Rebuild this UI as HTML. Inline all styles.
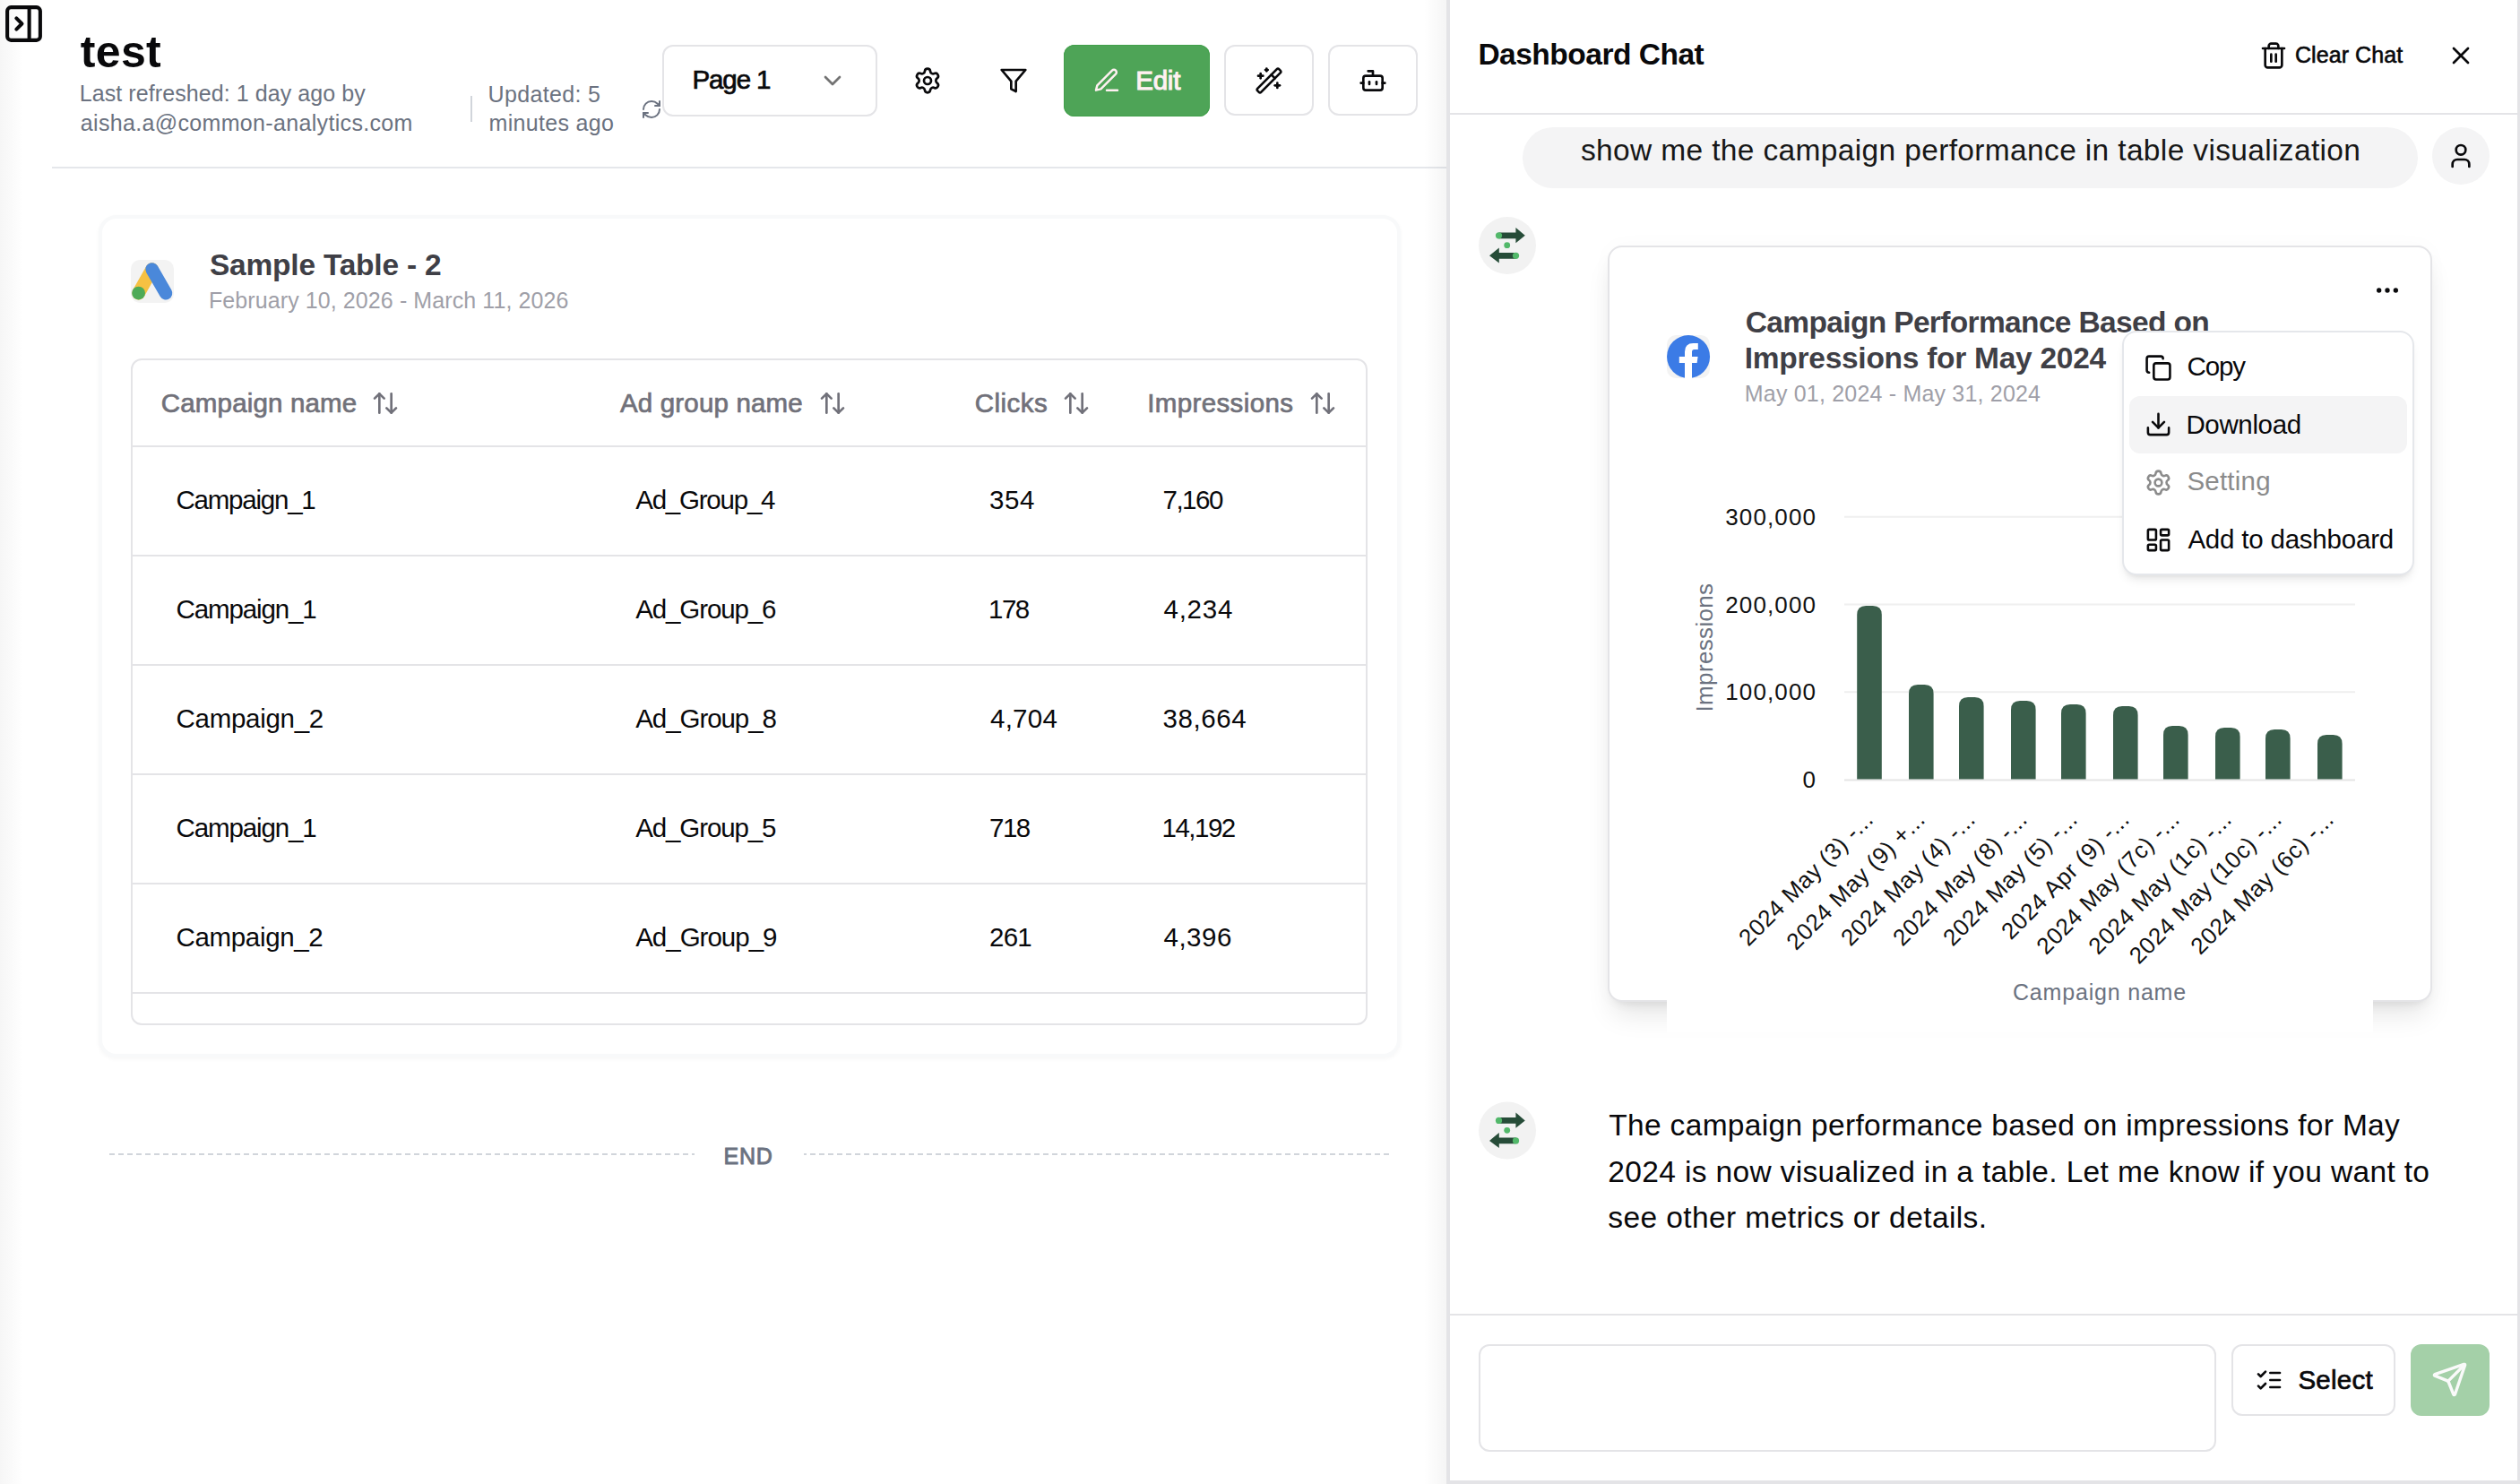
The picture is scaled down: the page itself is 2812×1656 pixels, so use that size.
<!DOCTYPE html>
<html><head><meta charset="utf-8"><title>Dashboard</title>
<style>
html,body{margin:0;padding:0;}
body{width:2812px;height:1656px;position:relative;overflow:hidden;background:#fff;font-family:"Liberation Sans",sans-serif;}
.t{position:absolute;white-space:pre;line-height:1;}
.b{position:absolute;}
.i{position:absolute;overflow:visible;}
</style></head><body>
<div class="b" style="left:0.00px;top:0.00px;width:26.00px;height:1656.00px;background:linear-gradient(to right,#f6f6f6,#ffffff);"></div>
<svg class="i" style="left:1.90px;top:1.90px;" width="49" height="49" viewBox="0 0 24 24" fill="none" stroke="#09090b" stroke-width="2" stroke-linecap="round" stroke-linejoin="round"><rect width="18" height="18" x="3" y="3" rx="2"/><path d="M15 3v18"/><path d="m8 9 3 3-3 3"/></svg>
<div class="t" style="left:89.80px;top:32.70px;font-size:50px;font-weight:700;color:#09090b;letter-spacing:0.333px;">test</div>
<div class="t" style="left:88.80px;top:92.45px;font-size:25px;font-weight:400;color:#6b7280;letter-spacing:0.074px;">Last refreshed: 1 day ago by</div>
<div class="t" style="left:89.80px;top:124.65px;font-size:25px;font-weight:400;color:#6b7280;letter-spacing:0.333px;">aisha.a@common-analytics.com</div>
<div class="b" style="left:525.00px;top:106.50px;width:2.00px;height:29.50px;background:#d1d5db;"></div>
<div class="t" style="left:544.60px;top:92.55px;font-size:25px;font-weight:400;color:#6b7280;letter-spacing:0.333px;">Updated: 5</div>
<div class="t" style="left:545.60px;top:124.75px;font-size:25px;font-weight:400;color:#6b7280;letter-spacing:0.300px;">minutes ago</div>
<svg class="i" style="left:715.00px;top:110.40px;" width="24" height="24" viewBox="0 0 24 24" fill="none" stroke="#6b7280" stroke-width="2" stroke-linecap="round" stroke-linejoin="round"><path d="M3 12a9 9 0 0 1 9-9 9.75 9.75 0 0 1 6.74 2.74L21 8"/><path d="M21 3v5h-5"/><path d="M21 12a9 9 0 0 1-9 9 9.75 9.75 0 0 1-6.74-2.74L3 16"/><path d="M8 16H3v5"/></svg>
<div class="b" style="left:739.00px;top:50.00px;width:240.00px;height:79.50px;background:#fff;border:2px solid #e4e4e7;box-sizing:border-box;border-radius:12px;"></div>
<div class="t" style="left:772.40px;top:74.42px;font-size:29.5px;font-weight:400;color:#09090b;letter-spacing:-1.080px;-webkit-text-stroke:0.71px #09090b;">Page 1</div>
<svg class="i" style="left:912.90px;top:74.30px;" width="32" height="32" viewBox="0 0 24 24" fill="none" stroke="#737373" stroke-width="2" stroke-linecap="round" stroke-linejoin="round"><path d="m6 9 6 6 6-6"/></svg>
<svg class="i" style="left:1019.00px;top:74.00px;" width="32" height="32" viewBox="0 0 24 24" fill="none" stroke="#09090b" stroke-width="2" stroke-linecap="round" stroke-linejoin="round"><path d="M9.671 4.136a2.34 2.34 0 0 1 4.659 0 2.34 2.34 0 0 0 3.319 1.915 2.34 2.34 0 0 1 2.33 4.033 2.34 2.34 0 0 0 0 3.831 2.34 2.34 0 0 1-2.33 4.033 2.34 2.34 0 0 0-3.319 1.915 2.34 2.34 0 0 1-4.659 0 2.34 2.34 0 0 0-3.32-1.915 2.34 2.34 0 0 1-2.33-4.033 2.34 2.34 0 0 0 0-3.831A2.34 2.34 0 0 1 6.35 6.051a2.34 2.34 0 0 0 3.319-1.915"/><circle cx="12" cy="12" r="3"/></svg>
<svg class="i" style="left:1114.90px;top:73.60px;" width="32" height="32" viewBox="0 0 24 24" fill="none" stroke="#09090b" stroke-width="2" stroke-linecap="round" stroke-linejoin="round"><polygon points="22 3 2 3 10 12.46 10 19 14 21 14 12.46 22 3"/></svg>
<div class="b" style="left:1187.00px;top:49.80px;width:163.20px;height:80.20px;background:#4ea457;border-radius:12px;box-shadow:inset 0 0 0 1px #42a04b;"></div>
<svg class="i" style="left:1218.50px;top:73.90px;" width="32" height="32" viewBox="0 0 24 24" fill="none" stroke="#fff1f2" stroke-width="1.85" stroke-linecap="round" stroke-linejoin="round"><path d="M12 20h9"/><path d="M16.5 3.5a2.121 2.121 0 0 1 3 3L7 19l-4 1 1-4L16.5 3.5z"/></svg>
<div class="t" style="left:1267.20px;top:75.22px;font-size:29.5px;font-weight:400;color:#fff1f2;letter-spacing:-0.233px;-webkit-text-stroke:1.06px #fff1f2;">Edit</div>
<div class="b" style="left:1366.40px;top:50.20px;width:99.20px;height:79.20px;background:#fff;border:2px solid #e4e4e7;box-sizing:border-box;border-radius:12px;"></div>
<svg class="i" style="left:1400.00px;top:73.75px;" width="32" height="32" viewBox="0 0 24 24" fill="none" stroke="#09090b" stroke-width="2" stroke-linecap="round" stroke-linejoin="round"><path d="m21.64 3.64-1.28-1.28a1.21 1.21 0 0 0-1.72 0L2.36 18.64a1.21 1.21 0 0 0 0 1.72l1.28 1.28a1.2 1.2 0 0 0 1.72 0L21.64 5.36a1.2 1.2 0 0 0 0-1.72"/><path d="m14 7 3 3"/><path d="M5 6v4"/><path d="M19 14v4"/><path d="M10 2v2"/><path d="M7 8H3"/><path d="M21 16h-4"/><path d="M11 3H9"/></svg>
<div class="b" style="left:1482.20px;top:50.20px;width:99.50px;height:79.20px;background:#fff;border:2px solid #e4e4e7;box-sizing:border-box;border-radius:12px;"></div>
<svg class="i" style="left:1515.85px;top:73.85px;" width="32" height="32" viewBox="0 0 24 24" fill="none" stroke="#09090b" stroke-width="2" stroke-linecap="round" stroke-linejoin="round"><path d="M12 8V4H8"/><rect width="16" height="12" x="4" y="8" rx="2"/><path d="M2 14h2"/><path d="M20 14h2"/><path d="M15 13v2"/><path d="M9 13v2"/></svg>
<div class="b" style="left:58.00px;top:186.00px;width:1556.00px;height:2.00px;background:#e5e7eb;"></div>
<div class="b" style="left:109.50px;top:240.00px;width:1453.50px;height:940.00px;background:#fff;border:4px solid #f8f9fa;box-sizing:border-box;border-radius:20px;box-shadow:0 2px 5px rgba(0,0,0,0.035);"></div>
<div class="b" style="left:146.00px;top:290.00px;width:48.00px;height:48.00px;background:#f3f3f3;border-radius:10px;"></div>
<svg class="i" style="left:0;top:0" width="2812" height="400"><line x1="169.6" y1="300.5" x2="154.6" y2="327.1" stroke="#f6c142" stroke-width="14.6" stroke-linecap="round"/><circle cx="154.6" cy="327.1" r="7.4" fill="#4eab57"/><line x1="169.6" y1="300.5" x2="185" y2="327.1" stroke="#4a88da" stroke-width="14.6" stroke-linecap="round"/></svg>
<div class="t" style="left:234.00px;top:279.02px;font-size:33.5px;font-weight:600;color:#3f3f46;letter-spacing:-0.220px;">Sample Table - 2</div>
<div class="t" style="left:233.00px;top:322.75px;font-size:25px;font-weight:400;color:#9f9fa8;letter-spacing:0.091px;">February 10, 2026 - March 11, 2026</div>
<div class="b" style="left:146.30px;top:400.20px;width:1379.70px;height:743.50px;background:#fff;border:2px solid #e4e4e7;box-sizing:border-box;border-radius:12px;"></div>
<div class="b" style="left:148.00px;top:496.50px;width:1376.00px;height:2.00px;background:#e4e4e7;"></div>
<div class="b" style="left:148.00px;top:618.50px;width:1376.00px;height:2.00px;background:#e4e4e7;"></div>
<div class="b" style="left:148.00px;top:740.50px;width:1376.00px;height:2.00px;background:#e4e4e7;"></div>
<div class="b" style="left:148.00px;top:862.50px;width:1376.00px;height:2.00px;background:#e4e4e7;"></div>
<div class="b" style="left:148.00px;top:984.50px;width:1376.00px;height:2.00px;background:#e4e4e7;"></div>
<div class="b" style="left:148.00px;top:1106.50px;width:1376.00px;height:2.00px;background:#e4e4e7;"></div>
<div class="t" style="left:179.80px;top:434.93px;font-size:29.5px;font-weight:400;color:#71717a;letter-spacing:0.167px;-webkit-text-stroke:0.71px #71717a;">Campaign name</div>
<div class="t" style="left:692.00px;top:434.93px;font-size:29.5px;font-weight:400;color:#71717a;letter-spacing:0.167px;-webkit-text-stroke:0.71px #71717a;">Ad group name</div>
<div class="t" style="left:1087.70px;top:434.93px;font-size:29.5px;font-weight:400;color:#71717a;letter-spacing:0.460px;-webkit-text-stroke:0.71px #71717a;">Clicks</div>
<div class="t" style="left:1280.20px;top:434.93px;font-size:29.5px;font-weight:400;color:#71717a;letter-spacing:0.380px;-webkit-text-stroke:0.71px #71717a;">Impressions</div>
<svg class="i" style="left:414.00px;top:434.20px;" width="32" height="32" viewBox="0 0 24 24" fill="none" stroke="#71717a" stroke-width="2" stroke-linecap="round" stroke-linejoin="round"><path d="m21 16-4 4-4-4"/><path d="M17 20V4"/><path d="m3 8 4-4 4 4"/><path d="M7 4v16"/></svg>
<svg class="i" style="left:912.90px;top:434.20px;" width="32" height="32" viewBox="0 0 24 24" fill="none" stroke="#71717a" stroke-width="2" stroke-linecap="round" stroke-linejoin="round"><path d="m21 16-4 4-4-4"/><path d="M17 20V4"/><path d="m3 8 4-4 4 4"/><path d="M7 4v16"/></svg>
<svg class="i" style="left:1185.10px;top:434.20px;" width="32" height="32" viewBox="0 0 24 24" fill="none" stroke="#71717a" stroke-width="2" stroke-linecap="round" stroke-linejoin="round"><path d="m21 16-4 4-4-4"/><path d="M17 20V4"/><path d="m3 8 4-4 4 4"/><path d="M7 4v16"/></svg>
<svg class="i" style="left:1460.00px;top:434.20px;" width="32" height="32" viewBox="0 0 24 24" fill="none" stroke="#71717a" stroke-width="2" stroke-linecap="round" stroke-linejoin="round"><path d="m21 16-4 4-4-4"/><path d="M17 20V4"/><path d="m3 8 4-4 4 4"/><path d="M7 4v16"/></svg>
<div class="t" style="left:196.50px;top:543.22px;font-size:29.5px;font-weight:400;color:#09090b;letter-spacing:-1.222px;">Campaign_1</div>
<div class="t" style="left:709.20px;top:543.22px;font-size:29.5px;font-weight:400;color:#09090b;letter-spacing:-1.222px;">Ad_Group_4</div>
<div class="t" style="left:1104.00px;top:543.22px;font-size:29.5px;font-weight:400;color:#09090b;letter-spacing:0.600px;">354</div>
<div class="t" style="left:1297.50px;top:543.22px;font-size:29.5px;font-weight:400;color:#09090b;letter-spacing:-1.500px;">7,160</div>
<div class="t" style="left:196.50px;top:665.22px;font-size:29.5px;font-weight:400;color:#09090b;letter-spacing:-1.111px;">Campaign_1</div>
<div class="t" style="left:709.20px;top:665.22px;font-size:29.5px;font-weight:400;color:#09090b;letter-spacing:-1.111px;">Ad_Group_6</div>
<div class="t" style="left:1103.00px;top:665.22px;font-size:29.5px;font-weight:400;color:#09090b;letter-spacing:-1.500px;">178</div>
<div class="t" style="left:1298.50px;top:665.22px;font-size:29.5px;font-weight:400;color:#09090b;letter-spacing:0.750px;">4,234</div>
<div class="t" style="left:196.50px;top:787.22px;font-size:29.5px;font-weight:400;color:#09090b;letter-spacing:-0.289px;">Campaign_2</div>
<div class="t" style="left:709.20px;top:787.22px;font-size:29.5px;font-weight:400;color:#09090b;letter-spacing:-1.056px;">Ad_Group_8</div>
<div class="t" style="left:1105.00px;top:787.22px;font-size:29.5px;font-weight:400;color:#09090b;letter-spacing:0.250px;">4,704</div>
<div class="t" style="left:1297.50px;top:787.22px;font-size:29.5px;font-weight:400;color:#09090b;letter-spacing:0.600px;">38,664</div>
<div class="t" style="left:196.50px;top:909.22px;font-size:29.5px;font-weight:400;color:#09090b;letter-spacing:-1.111px;">Campaign_1</div>
<div class="t" style="left:709.20px;top:909.22px;font-size:29.5px;font-weight:400;color:#09090b;letter-spacing:-1.111px;">Ad_Group_5</div>
<div class="t" style="left:1104.00px;top:909.22px;font-size:29.5px;font-weight:400;color:#09090b;letter-spacing:-1.500px;">718</div>
<div class="t" style="left:1296.50px;top:909.22px;font-size:29.5px;font-weight:400;color:#09090b;letter-spacing:-1.500px;">14,192</div>
<div class="t" style="left:196.50px;top:1031.22px;font-size:29.5px;font-weight:400;color:#09090b;letter-spacing:-0.333px;">Campaign_2</div>
<div class="t" style="left:709.20px;top:1031.22px;font-size:29.5px;font-weight:400;color:#09090b;letter-spacing:-1.000px;">Ad_Group_9</div>
<div class="t" style="left:1104.00px;top:1031.22px;font-size:29.5px;font-weight:400;color:#09090b;letter-spacing:-0.750px;">261</div>
<div class="t" style="left:1298.50px;top:1031.22px;font-size:29.5px;font-weight:400;color:#09090b;letter-spacing:0.500px;">4,396</div>
<div class="t" style="left:807.50px;top:1277.65px;font-size:25px;font-weight:400;color:#6b7280;letter-spacing:0.750px;-webkit-text-stroke:0.90px #6b7280;">END</div>
<div class="b" style="left:121.60px;top:1287.00px;width:653.40px;height:2.00px;background:transparent;background-image:repeating-linear-gradient(to right,#d1d5db 0 6px,transparent 6px 10px);"></div>
<div class="b" style="left:897.00px;top:1287.00px;width:653.00px;height:2.00px;background:transparent;background-image:repeating-linear-gradient(to left,#d1d5db 0 6px,transparent 6px 10px);"></div>
<div class="b" style="left:1589.00px;top:0.00px;width:25.00px;height:1656.00px;background:linear-gradient(to right,rgba(0,0,0,0),rgba(0,0,0,0.04));"></div>
<div class="b" style="left:1614.00px;top:0.00px;width:1198.00px;height:1656.00px;background:#fff;"></div>
<div class="b" style="left:1614.00px;top:0.00px;width:4.00px;height:1656.00px;background:#e4e4e7;"></div>
<div class="b" style="left:2809.00px;top:0.00px;width:3.00px;height:1656.00px;background:#e4e4e7;"></div>
<div class="b" style="left:1614.00px;top:1652.00px;width:1198.00px;height:4.00px;background:#e4e4e7;"></div>
<div class="t" style="left:1649.40px;top:44.43px;font-size:33.5px;font-weight:700;color:#09090b;letter-spacing:-0.492px;">Dashboard Chat</div>
<svg class="i" style="left:2520.90px;top:45.70px;" width="32" height="32" viewBox="0 0 24 24" fill="none" stroke="#09090b" stroke-width="2" stroke-linecap="round" stroke-linejoin="round"><path d="M3 6h18"/><path d="M19 6v14c0 1-1 2-2 2H7c-1 0-2-1-2-2V6"/><path d="M8 6V4c0-1 1-2 2-2h4c1 0 2 1 2 2v2"/><line x1="10" x2="10" y1="11" y2="17"/><line x1="14" x2="14" y1="11" y2="17"/></svg>
<div class="t" style="left:2560.90px;top:48.65px;font-size:25px;font-weight:400;color:#09090b;letter-spacing:0.089px;-webkit-text-stroke:0.60px #09090b;">Clear Chat</div>
<svg class="i" style="left:2729.90px;top:45.90px;" width="32" height="32" viewBox="0 0 24 24" fill="none" stroke="#09090b" stroke-width="2" stroke-linecap="round" stroke-linejoin="round"><path d="M18 6 6 18"/><path d="m6 6 12 12"/></svg>
<div class="b" style="left:1618.00px;top:126.00px;width:1191.00px;height:2.00px;background:#e4e4e7;"></div>
<div class="b" style="left:1699.00px;top:142.00px;width:999.00px;height:68.00px;background:#f4f4f5;border-radius:34px;"></div>
<div class="t" style="left:1764.00px;top:150.53px;font-size:33.5px;font-weight:400;color:#171717;letter-spacing:0.352px;">show me the campaign performance in table visualization</div>
<div class="b" style="left:2714.20px;top:141.90px;width:64.00px;height:64.00px;background:#f4f4f5;border-radius:32px;"></div>
<svg class="i" style="left:2730.00px;top:158.10px;" width="32" height="32" viewBox="0 0 24 24" fill="none" stroke="#09090b" stroke-width="2" stroke-linecap="round" stroke-linejoin="round"><path d="M19 21v-2a4 4 0 0 0-4-4H9a4 4 0 0 0-4 4v2"/><circle cx="12" cy="7" r="4"/></svg>
<svg class="i" style="left:0;top:0" width="2812" height="1656"><circle cx="1682.00" cy="274.00" r="32" fill="#f2f2f2"/><path d="M1672.50 259.40 L1691.40 259.40 L1691.40 254.00 L1701.80 262.80 L1691.40 271.20 L1691.40 266.20 L1672.50 266.20 Z" fill="#264c38"/><circle cx="1672.50" cy="262.80" r="3.6" fill="#52b86a"/><circle cx="1681.70" cy="273.70" r="3.4" fill="#52b86a"/><path d="M1691.50 281.90 L1672.80 281.90 L1672.80 276.40 L1662.00 285.30 L1672.80 293.50 L1672.80 288.70 L1691.50 288.70 Z" fill="#264c38"/><circle cx="1691.50" cy="285.30" r="3.6" fill="#52b86a"/></svg>
<div class="b" style="left:1794.40px;top:274.00px;width:919.60px;height:843.60px;background:#fff;border:2px solid #e4e4e7;box-sizing:border-box;border-radius:16px;box-shadow:0 20px 30px -6px rgba(0,0,0,0.10),0 8px 12px -8px rgba(0,0,0,0.10),0 0 24px rgba(0,0,0,0.025);"></div>
<div class="b" style="left:1860.00px;top:1100.00px;width:788.00px;height:52.00px;background:#fff;"></div>
<svg class="i" style="left:2647.90px;top:307.80px;" width="32" height="32" viewBox="0 0 24 24" fill="none" stroke="#09090b" stroke-width="2" stroke-linecap="round" stroke-linejoin="round"><circle cx="12" cy="12" r="1"/><circle cx="19" cy="12" r="1"/><circle cx="5" cy="12" r="1"/></svg>
<div class="b" style="left:1860.00px;top:374.00px;width:48.00px;height:48.00px;background:#f3f3f3;border-radius:10px;"></div>
<svg class="i" style="left:0;top:0" width="2812" height="500"><circle cx="1884.05" cy="398.05" r="24" fill="#3b7be6"/><path d="M1880 422 L1880 405 L1873.8 405 L1873.8 398.1 L1880 398.1 L1880 392.5 Q1880 383 1889.5 383 L1894.8 383 L1894.8 390 L1890.5 390 Q1888 390 1888 392.5 L1888 398.1 L1894.6 398.1 L1893.6 405 L1888 405 L1888 422 Z" fill="#fff"/></svg>
<div class="t" style="left:1947.80px;top:342.52px;font-size:33.5px;font-weight:600;color:#3f3f46;letter-spacing:-0.650px;">Campaign Performance Based on</div>
<div class="t" style="left:1946.80px;top:382.52px;font-size:33.5px;font-weight:600;color:#3f3f46;letter-spacing:-0.274px;">Impressions for May 2024</div>
<div class="t" style="left:1946.80px;top:426.95px;font-size:25px;font-weight:400;color:#9f9fa8;letter-spacing:0.192px;">May 01, 2024 - May 31, 2024</div>
<svg class="i" style="left:0;top:0" width="2812" height="1656" font-family="Liberation Sans"><line x1="2058" x2="2628" y1="576.7" y2="576.7" stroke="#efefef" stroke-width="2"/><line x1="2058" x2="2628" y1="674.5" y2="674.5" stroke="#efefef" stroke-width="2"/><line x1="2058" x2="2628" y1="772.2" y2="772.2" stroke="#efefef" stroke-width="2"/><line x1="2058" x2="2628" y1="870.4" y2="870.4" stroke="#e5e5e5" stroke-width="2"/><text x="2027" y="585.7" text-anchor="end" font-size="26" fill="#111" letter-spacing="1.1">300,000</text><text x="2027" y="683.5" text-anchor="end" font-size="26" fill="#111" letter-spacing="1.1">200,000</text><text x="2027" y="781.2" text-anchor="end" font-size="26" fill="#111" letter-spacing="1.1">100,000</text><text x="2027" y="879.4" text-anchor="end" font-size="26" fill="#111" letter-spacing="1.1">0</text><text x="0" y="0" transform="translate(1911,722.5) rotate(-90)" text-anchor="middle" font-size="26" fill="#6b7280" letter-spacing="0.34">Impressions</text><path d="M2072.2 869.4 L2072.2 686 Q2072.2 676 2082.2 676 L2089.7999999999997 676 Q2099.7999999999997 676 2099.7999999999997 686 L2099.7999999999997 869.4 Z" fill="#3a5e4b"/><path d="M2130 869.4 L2130 774 Q2130 764 2140 764 L2147.6 764 Q2157.6 764 2157.6 774 L2157.6 869.4 Z" fill="#3a5e4b"/><path d="M2186 869.4 L2186 788 Q2186 778 2196 778 L2203.6 778 Q2213.6 778 2213.6 788 L2213.6 869.4 Z" fill="#3a5e4b"/><path d="M2244 869.4 L2244 792 Q2244 782 2254 782 L2261.6 782 Q2271.6 782 2271.6 792 L2271.6 869.4 Z" fill="#3a5e4b"/><path d="M2300 869.4 L2300 796 Q2300 786 2310 786 L2317.6 786 Q2327.6 786 2327.6 796 L2327.6 869.4 Z" fill="#3a5e4b"/><path d="M2358 869.4 L2358 798 Q2358 788 2368 788 L2375.6 788 Q2385.6 788 2385.6 798 L2385.6 869.4 Z" fill="#3a5e4b"/><path d="M2414 869.4 L2414 820 Q2414 810 2424 810 L2431.6 810 Q2441.6 810 2441.6 820 L2441.6 869.4 Z" fill="#3a5e4b"/><path d="M2472 869.4 L2472 822 Q2472 812 2482 812 L2489.6 812 Q2499.6 812 2499.6 822 L2499.6 869.4 Z" fill="#3a5e4b"/><path d="M2528 869.4 L2528 824 Q2528 814 2538 814 L2545.6 814 Q2555.6 814 2555.6 824 L2555.6 869.4 Z" fill="#3a5e4b"/><path d="M2586 869.4 L2586 830 Q2586 820 2596 820 L2603.6 820 Q2613.6 820 2613.6 830 L2613.6 869.4 Z" fill="#3a5e4b"/><text x="0" y="0" transform="translate(2092.0,916) rotate(-45)" text-anchor="end" font-size="26" letter-spacing="0.5" fill="#111">2024 May (3) -...</text><text x="0" y="0" transform="translate(2149.8,916) rotate(-45)" text-anchor="end" font-size="26" letter-spacing="0.5" fill="#111">2024 May (9) +...</text><text x="0" y="0" transform="translate(2205.8,916) rotate(-45)" text-anchor="end" font-size="26" letter-spacing="0.5" fill="#111">2024 May (4) -...</text><text x="0" y="0" transform="translate(2263.8,916) rotate(-45)" text-anchor="end" font-size="26" letter-spacing="0.5" fill="#111">2024 May (8) -...</text><text x="0" y="0" transform="translate(2319.8,916) rotate(-45)" text-anchor="end" font-size="26" letter-spacing="0.5" fill="#111">2024 May (5) -...</text><text x="0" y="0" transform="translate(2377.8,916) rotate(-45)" text-anchor="end" font-size="26" letter-spacing="0.5" fill="#111">2024 Apr (9) -...</text><text x="0" y="0" transform="translate(2433.8,916) rotate(-45)" text-anchor="end" font-size="26" letter-spacing="0.5" fill="#111">2024 May (7c) -...</text><text x="0" y="0" transform="translate(2491.8,916) rotate(-45)" text-anchor="end" font-size="26" letter-spacing="0.5" fill="#111">2024 May (1c) -...</text><text x="0" y="0" transform="translate(2547.8,916) rotate(-45)" text-anchor="end" font-size="26" letter-spacing="0.5" fill="#111">2024 May (10c) -...</text><text x="0" y="0" transform="translate(2605.8,916) rotate(-45)" text-anchor="end" font-size="26" letter-spacing="0.5" fill="#111">2024 May (6c) -...</text></svg>
<div class="t" style="left:2246.00px;top:1095.15px;font-size:25px;font-weight:400;color:#6b7280;letter-spacing:0.808px;">Campaign name</div>
<div class="b" style="left:2368.00px;top:369.20px;width:326.30px;height:272.90px;background:#fff;border:2px solid #e5e7eb;box-sizing:border-box;border-radius:16px;z-index:5;box-shadow:0 8px 12px -4px rgba(0,0,0,0.10),0 4px 6px -4px rgba(0,0,0,0.08);"></div>
<div class="b" style="left:2376.40px;top:442.00px;width:309.40px;height:63.80px;background:#f4f4f5;border-radius:12px;z-index:5;"></div>
<svg class="i" style="left:2392.50px;top:394.50px;z-index:6;" width="31" height="31" viewBox="0 0 24 24" fill="none" stroke="#09090b" stroke-width="2" stroke-linecap="round" stroke-linejoin="round"><rect width="14" height="14" x="8" y="8" rx="2" ry="2"/><path d="M4 16c-1.1 0-2-.9-2-2V4c0-1.1.9-2 2-2h10c1.1 0 2 .9 2 2"/></svg>
<svg class="i" style="left:2392.50px;top:458.00px;z-index:6;" width="31" height="31" viewBox="0 0 24 24" fill="none" stroke="#09090b" stroke-width="2" stroke-linecap="round" stroke-linejoin="round"><path d="M12 15V3"/><path d="M21 15v4a2 2 0 0 1-2 2H5a2 2 0 0 1-2-2v-4"/><path d="m7 10 5 5 5-5"/></svg>
<svg class="i" style="left:2392.50px;top:522.50px;z-index:6;" width="31" height="31" viewBox="0 0 24 24" fill="none" stroke="#8b8b8b" stroke-width="2" stroke-linecap="round" stroke-linejoin="round"><path d="M9.671 4.136a2.34 2.34 0 0 1 4.659 0 2.34 2.34 0 0 0 3.319 1.915 2.34 2.34 0 0 1 2.33 4.033 2.34 2.34 0 0 0 0 3.831 2.34 2.34 0 0 1-2.33 4.033 2.34 2.34 0 0 0-3.319 1.915 2.34 2.34 0 0 1-4.659 0 2.34 2.34 0 0 0-3.32-1.915 2.34 2.34 0 0 1-2.33-4.033 2.34 2.34 0 0 0 0-3.831A2.34 2.34 0 0 1 6.35 6.051a2.34 2.34 0 0 0 3.319-1.915"/><circle cx="12" cy="12" r="3"/></svg>
<svg class="i" style="left:2392.50px;top:586.50px;z-index:6;" width="31" height="31" viewBox="0 0 24 24" fill="none" stroke="#09090b" stroke-width="2" stroke-linecap="round" stroke-linejoin="round"><rect width="7" height="9" x="3" y="3" rx="1"/><rect width="7" height="5" x="14" y="3" rx="1"/><rect width="7" height="9" x="14" y="12" rx="1"/><rect width="7" height="5" x="3" y="16" rx="1"/></svg>
<div class="t" style="left:2440.40px;top:394.32px;font-size:29.5px;font-weight:400;color:#09090b;letter-spacing:-1.067px;z-index:6;">Copy</div>
<div class="t" style="left:2439.40px;top:458.93px;font-size:29.5px;font-weight:400;color:#09090b;letter-spacing:-0.357px;z-index:6;">Download</div>
<div class="t" style="left:2440.40px;top:522.42px;font-size:29.5px;font-weight:400;color:#8b8b8b;letter-spacing:0.217px;z-index:6;">Setting</div>
<div class="t" style="left:2441.40px;top:586.72px;font-size:29.5px;font-weight:400;color:#09090b;letter-spacing:-0.207px;z-index:6;">Add to dashboard</div>
<svg class="i" style="left:0;top:0" width="2812" height="1656"><circle cx="1682.00" cy="1261.60" r="32" fill="#f2f2f2"/><path d="M1672.50 1247.00 L1691.40 1247.00 L1691.40 1241.60 L1701.80 1250.40 L1691.40 1258.80 L1691.40 1253.80 L1672.50 1253.80 Z" fill="#264c38"/><circle cx="1672.50" cy="1250.40" r="3.6" fill="#52b86a"/><circle cx="1681.70" cy="1261.30" r="3.4" fill="#52b86a"/><path d="M1691.50 1269.50 L1672.80 1269.50 L1672.80 1264.00 L1662.00 1272.90 L1672.80 1281.10 L1672.80 1276.30 L1691.50 1276.30 Z" fill="#264c38"/><circle cx="1691.50" cy="1272.90" r="3.6" fill="#52b86a"/></svg>
<div class="t" style="left:1795.30px;top:1238.53px;font-size:33.5px;font-weight:400;color:#09090b;letter-spacing:0.321px;">The campaign performance based on impressions for May</div>
<div class="t" style="left:1794.30px;top:1290.73px;font-size:33.5px;font-weight:400;color:#09090b;letter-spacing:0.350px;">2024 is now visualized in a table. Let me know if you want to</div>
<div class="t" style="left:1794.30px;top:1342.33px;font-size:33.5px;font-weight:400;color:#09090b;letter-spacing:0.404px;">see other metrics or details.</div>
<div class="b" style="left:1618.00px;top:1466.00px;width:1191.00px;height:2.00px;background:#e4e4e7;"></div>
<div class="b" style="left:1650.40px;top:1500.00px;width:822.60px;height:119.50px;background:#fff;border:2px solid #e4e4e7;box-sizing:border-box;border-radius:12px;"></div>
<div class="b" style="left:2490.30px;top:1500.30px;width:183.10px;height:79.30px;background:#fff;border:2px solid #e4e4e7;box-sizing:border-box;border-radius:12px;"></div>
<svg class="i" style="left:2515.90px;top:1523.80px;" width="32" height="32" viewBox="0 0 24 24" fill="none" stroke="#09090b" stroke-width="2" stroke-linecap="round" stroke-linejoin="round"><path d="m3 17 2 2 4-4"/><path d="m3 7 2 2 4-4"/><path d="M13 6h8"/><path d="M13 12h8"/><path d="M13 18h8"/></svg>
<div class="t" style="left:2564.40px;top:1524.92px;font-size:29.5px;font-weight:400;color:#09090b;letter-spacing:0.260px;-webkit-text-stroke:0.71px #09090b;">Select</div>
<div class="b" style="left:2690.10px;top:1500.00px;width:87.90px;height:80.00px;background:#a4d0a8;border-radius:12px;"></div>
<svg class="i" style="left:2713.40px;top:1519.40px;" width="41" height="41" viewBox="0 0 24 24" fill="none" stroke="#fafafa" stroke-width="2" stroke-linecap="round" stroke-linejoin="round"><path d="M14.536 21.686a.5.5 0 0 0 .937-.024l6.5-19a.496.496 0 0 0-.635-.635l-19 6.5a.5.5 0 0 0-.024.937l7.93 3.18a2 2 0 0 1 1.112 1.11z"/><path d="m21.854 2.147-10.94 10.939"/></svg>
</body></html>
